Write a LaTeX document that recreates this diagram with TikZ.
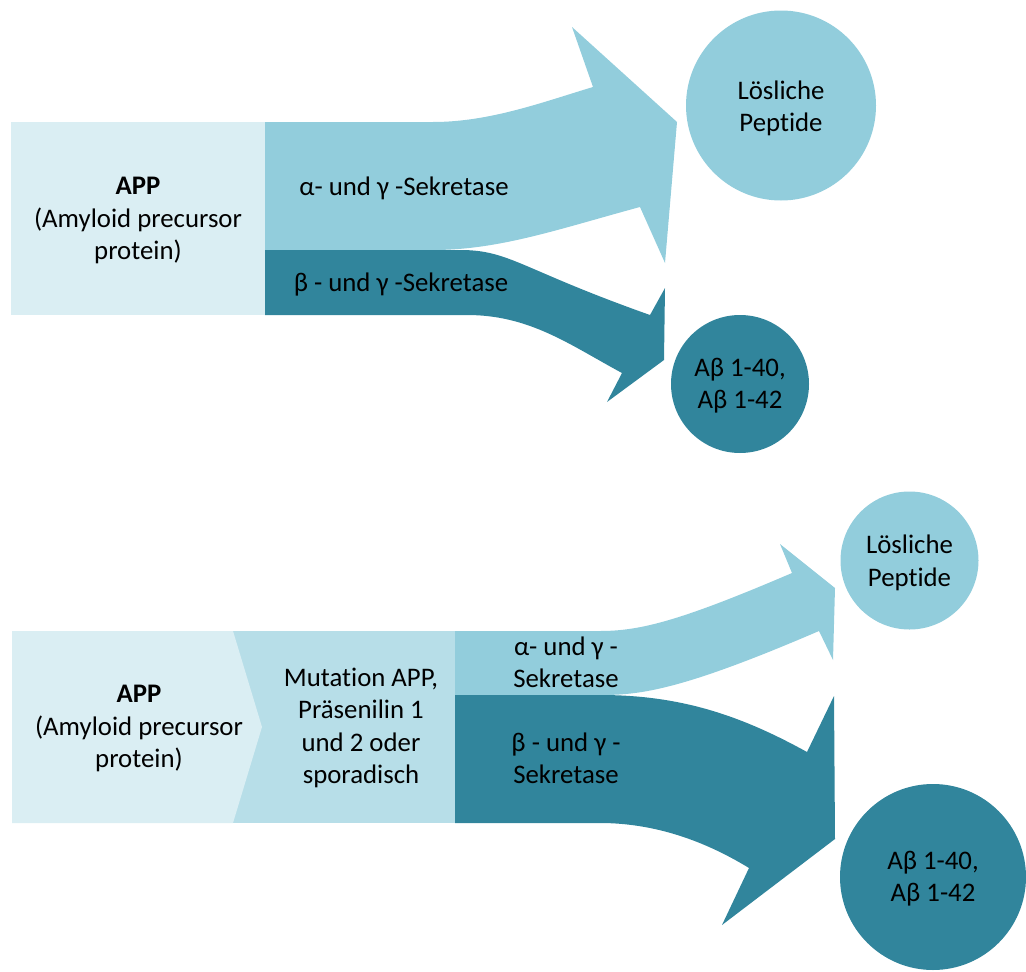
\documentclass[tikz,border=0pt]{standalone}
\usepackage{fontspec}
\setmainfont{Carlito}[Ligatures={NoCommon}]
\definecolor{applight}{HTML}{DAEEF3}
\definecolor{mutcol}{HTML}{B7DEE8}
\definecolor{alphacol}{HTML}{92CDDC}
\definecolor{betacol}{HTML}{31859C}
\begin{document}
\begin{tikzpicture}[x=1pt,y=-1pt,
  lbl/.style={font=\fontsize{26.8}{32.5}\selectfont, align=center, text=black, inner sep=0pt},
  ring/.style={circle, inner sep=0pt, minimum size=#1},
  box/.style={rectangle, inner sep=0pt, minimum width=#1}]
\useasboundingbox (0,0) rectangle (1026,972);

% ---------- top part ----------
\fill[applight] (11,122) rectangle (265,315);
\node[lbl] (app1) at (138,220.5) {\textbf{APP}\\(Amyloid precursor\\protein)};
\fill[alphacol] (265,122) -- (433,122) .. controls (490,122) and (543,102) .. (593,87)
  -- (572,27) -- (677,122) -- (665,263) -- (640,207)
  .. controls (560,228.6) and (500,250) .. (433,250) -- (265,250) -- cycle;
\fill[betacol] (265,250) -- (460,250) .. controls (510,250) and (520,269) .. (650,315)
  -- (665,288) -- (664,360) -- (607,402) -- (622,373)
  .. controls (570,345) and (530,315) .. (467,315) -- (265,315) -- cycle;
\node[lbl] (alpha1) at (404,188) {α- und γ -Sekretase};
\node[lbl] (beta1) at (401,285) {β - und γ -Sekretase};
\node[ring=190, fill=alphacol] (sol1) at (781,105.5) {};
\node[lbl] (sol1t) at (781,108.5) {Lösliche\\Peptide};
\node[ring=138, fill=betacol] (ab1) at (740,384) {};
\node[lbl] (ab1t) at (740,385.5) {Aβ 1-40,\\Aβ 1-42};

% ---------- bottom part ----------
\fill[mutcol] (233,631) rectangle (455,823);
\fill[applight] (12,631) -- (233,631) -- (262,727) -- (233,823) -- (12,823) -- cycle;
\node[lbl] (app2) at (139,728.5) {\textbf{APP}\\(Amyloid precursor\\protein)};
\node[lbl] (mut) at (361,728) {Mutation APP,\\Präsenilin 1\\und 2 oder\\sporadisch};
\fill[alphacol] (455,631) -- (600,631) .. controls (640,631) and (680,621) .. (792,573)
  -- (780,544) -- (835,588) -- (833,660) -- (819,631)
  .. controls (680,690.8) and (640,695) .. (600,695) -- (455,695) -- cycle;
\fill[betacol] (455,695) -- (600,695) .. controls (680,695) and (740,715) .. (807,752)
  -- (834,696) -- (835,839) -- (722,925) -- (749,868)
  .. controls (700,838) and (650,823) .. (600,823) -- (455,823) -- cycle;
\node[lbl] (alpha2) at (566,662.5) {α- und γ -\\Sekretase};
\node[lbl] (beta2) at (566,758.5) {β - und γ -\\Sekretase};
\node[ring=138, fill=alphacol] (sol2) at (909.5,560.5) {};
\node[lbl] (sol2t) at (909.5,563) {Lösliche\\Peptide};
\node[ring=186, fill=betacol] (ab2) at (933,877) {};
\node[lbl] (ab2t) at (933,878.5) {Aβ 1-40,\\Aβ 1-42};
\end{tikzpicture}
\end{document}
